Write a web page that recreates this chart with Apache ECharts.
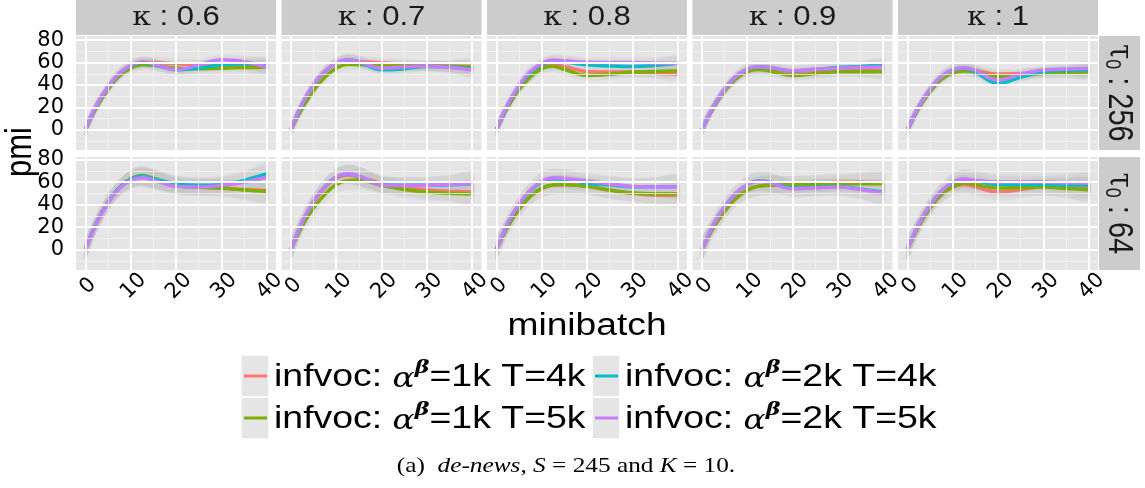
<!DOCTYPE html>
<html>
<head>
<meta charset="utf-8">
<script src="https://cdn.jsdelivr.net/npm/echarts@6/dist/echarts.min.js"></script>
<style>
  html, body { margin: 0; padding: 0; background: #fff; }
  #chart { width: 1145px; height: 488px; }
</style>
</head>
<body>
<div id="chart"></div>
<script>
// x positions of the smoothed curves
var minibatch = [0, 2.5, 5, 7.5, 10, 12.5, 15, 20, 25, 30, 35, 40];
var kappas = ['0.6', '0.7', '0.8', '0.9', '1'];
var taus = ['256', '64'];
var xTicks = [0, 10, 20, 30, 40];
var yTicks = [0, 20, 40, 60, 80];
var names = ['infvoc: αβ=1k T=4k', 'infvoc: αβ=1k T=5k', 'infvoc: αβ=2k T=4k', 'infvoc: αβ=2k T=5k'];

// pmi per panel, order: 1k/4k, 1k/5k, 2k/4k, 2k/5k
var t256_k06 = [
  [0, 22, 38, 50, 57, 60, 60, 59, 58, 57, 57, 57],
  [0, 20, 36, 48, 55, 58, 57.5, 55, 54.5, 55, 55.5, 56],
  [0, 22, 38, 50, 57, 60, 58.5, 53.5, 55, 58, 59, 59],
  [0, 22, 38, 50, 57.5, 60.5, 59, 53.5, 58, 62.5, 61, 56]
];
var t256_k07 = [
  [0, 23, 40, 52, 59, 62, 61, 59.8, 58.5, 57.5, 57, 56.5],
  [0, 19, 35, 47, 55, 58.3, 58.3, 57, 57, 57, 56.5, 56],
  [0, 23, 40, 52, 59.5, 62.5, 60.5, 53.5, 54.5, 56.5, 56, 54],
  [0, 23, 40, 52, 59.5, 62.8, 61, 55, 56, 57, 55.5, 53.3]
];
var t256_k08 = [
  [0, 21, 37, 48, 55, 58, 56.5, 52, 51.5, 51.5, 50.5, 49.8],
  [0, 20, 36, 47, 54.5, 56.8, 54, 48.5, 49.5, 51.5, 52, 52.4],
  [0, 22, 39, 51, 58, 61, 60.5, 58, 57, 56.5, 57.5, 59.3],
  [0, 22.5, 39.5, 52, 59, 62.2, 61.5, 60.2, 60, 60, 59.5, 59.3]
];
var t256_k09 = [
  [0, 20, 35, 46, 52.5, 54.5, 53.5, 50, 51, 53, 53, 53],
  [0, 19.5, 34.5, 45.5, 52, 53.8, 52.5, 48.5, 50, 51.8, 51.8, 51.8],
  [0, 20.5, 36, 47.5, 54, 56.2, 55.5, 52.5, 54, 55.5, 56.5, 57.8],
  [0, 20.5, 36, 47.5, 54, 56.3, 55.5, 52.7, 54, 55, 55.7, 56.3]
];
var t256_k1 = [
  [0, 20, 35.5, 46.5, 52.5, 54.5, 53, 49.8, 50.3, 51, 51.5, 52],
  [0, 19, 34, 45, 50.5, 52.4, 51.5, 47.4, 48.5, 50.4, 51.2, 51.8],
  [0, 20.5, 36, 47.5, 53.5, 55, 51.5, 41.5, 47, 52, 53, 53.3],
  [0, 20.5, 36, 47.5, 53.5, 55.4, 53, 44.4, 49.5, 53.3, 54.3, 54.8]
];
var t64_k06 = [
  [0, 24, 42, 55, 63, 65.5, 63, 57.5, 56, 55, 53.5, 52.7],
  [0, 24, 42, 55, 63, 66, 63.5, 57, 55.5, 54.8, 53, 51.8],
  [0, 24, 42, 55, 62.5, 65.2, 63, 58.7, 57.2, 57.8, 61.6, 67.5],
  [0, 23.5, 41.5, 54.5, 61.5, 64, 62, 56.3, 55.8, 57.2, 60, 64.6]
];
var t64_k07 = [
  [0, 24, 42, 55, 63.5, 66.5, 65, 59, 55.5, 53, 52, 51.2],
  [0, 21, 37, 49, 58, 61.5, 62, 57.2, 53.5, 51.2, 50.3, 49.8],
  [0, 24.5, 43, 56, 64.5, 67.3, 65.5, 58, 57.2, 57.2, 57.8, 58.5],
  [0, 24.5, 43, 56, 64.5, 67.5, 65.5, 57.8, 57, 57.2, 58, 58.7]
];
var t64_k08 = [
  [0, 20.5, 36, 47.5, 54.5, 57.5, 58, 56.3, 53, 50, 48.5, 48.5],
  [0, 20.5, 36, 47.5, 54.5, 57.5, 57.8, 56.3, 53, 50.4, 49.8, 49.8],
  [0, 23, 40, 52.5, 60, 63, 62.5, 59, 57.5, 56, 56, 56],
  [0, 23.5, 40.5, 53, 61, 64, 63.5, 61, 58.5, 56.3, 55.8, 55.7]
];
var t64_k09 = [
  [0, 19.5, 34, 45.5, 53, 56.5, 57.5, 58, 59, 60, 60, 59.5],
  [0, 19.5, 34, 45.5, 53, 56.5, 57.2, 57.8, 58.2, 58.7, 58.7, 58.7],
  [0, 22, 38, 50, 57.5, 61, 60, 55, 55.5, 56, 54, 51],
  [0, 22, 38, 50, 57.5, 60.7, 59.5, 54.2, 55, 55.7, 53.5, 50.4]
];
var t64_k1 = [
  [0, 21, 37, 49, 55.5, 58, 56, 51.2, 53.5, 55.7, 55, 54.2],
  [0, 21, 37, 49, 56, 59.5, 58, 54.8, 55.2, 55.7, 54.5, 53.3],
  [0, 22.5, 39.5, 52, 59.5, 62.5, 61, 58, 58, 58, 57.6, 57.2],
  [0, 22.5, 39.5, 52, 60, 63, 61.5, 60.1, 60.1, 60.1, 59.6, 59.2]
];
// half width of the confidence ribbons
var seT256 = [6, 5.5, 5, 5, 5, 5, 5, 4.5, 4.5, 4.5, 5, 6];
var seT64 = [9, 8, 7.5, 7.5, 8, 8.5, 8.5, 7.5, 7.5, 7.5, 8.5, 10];

var panels = [
  [t256_k06, t256_k07, t256_k08, t256_k09, t256_k1],
  [t64_k06, t64_k07, t64_k08, t64_k09, t64_k1]
];
var ses = [seT256, seT64];
var colors = ['#F8766D', '#7CAE00', '#00BFC4', '#C77CFF'];

var colLeft = [76, 281.5, 487, 692.5, 898];
var panelW = 200;
var rowTop = [36, 157];
var rowH = [114, 113];
var yRange = [[-17.8, 83.6], [-18, 82.4]];

var minorStyle = { color: '#F2F2F2', width: 0.8, type: 'solid' };
var majorStyle = { color: '#FFFFFF', width: 1.8, type: 'solid' };
var gridLines = [];
[5, 15, 25, 35].forEach(function (v) { gridLines.push({ xAxis: v, lineStyle: minorStyle }); });
[-10, 10, 30, 50, 70].forEach(function (v) { gridLines.push({ yAxis: v, lineStyle: minorStyle }); });
xTicks.forEach(function (v) { gridLines.push({ xAxis: v, lineStyle: majorStyle }); });
yTicks.forEach(function (v) { gridLines.push({ yAxis: v, lineStyle: majorStyle }); });

// confidence ribbon: one polygon built from all rows (x, lower, upper)
function renderRibbon(params, api) {
  if (params.dataIndexInside !== 0) return null;
  var n = params.dataInsideLength;
  var up = [], lo = [];
  for (var j = 0; j < n; j++) {
    up.push(api.coord([api.value(0, j), api.value(2, j)]));
    lo.unshift(api.coord([api.value(0, j), api.value(1, j)]));
  }
  return {
    type: 'polygon',
    shape: { points: up.concat(lo), smooth: 0.3 },
    style: { fill: 'rgba(153,153,153,0.12)' }
  };
}

var grids = [], xAxes = [], yAxes = [], series = [], graphics = [];

for (var r = 0; r < 2; r++) {
  for (var c = 0; c < 5; c++) {
    var i = r * 5 + c;
    grids.push({
      left: colLeft[c], top: rowTop[r], width: panelW, height: rowH[r],
      show: true, backgroundColor: '#E5E5E5', borderWidth: 0,
      outerBoundsMode: 'none'
    });
    xAxes.push({
      type: 'value', gridIndex: i, min: -2.05, max: 42.05,
      axisLine: { show: false }, splitLine: { show: false },
      axisTick: { show: r === 1, length: 6, customValues: xTicks, lineStyle: { color: '#7F7F7F', width: 1.5 } },
      axisLabel: {
        show: r === 1, customValues: xTicks, rotate: 45, margin: 19,
        align: 'center', verticalAlign: 'middle', padding: [8, 0, 0, 8],
        fontFamily: 'DejaVu Sans', fontSize: 21, color: '#000'
      }
    });
    yAxes.push({
      type: 'value', gridIndex: i, min: yRange[r][0], max: yRange[r][1],
      axisLine: { show: false }, splitLine: { show: false },
      axisTick: { show: c === 0, length: 6, customValues: yTicks, lineStyle: { color: '#7F7F7F', width: 1.5 } },
      axisLabel: {
        show: c === 0, customValues: yTicks, margin: 12,
        fontFamily: 'DejaVu Sans', fontSize: 21, color: '#000'
      }
    });
    series.push({
      type: 'line', xAxisIndex: i, yAxisIndex: i, data: [], z: 0, silent: true,
      markLine: { silent: true, symbol: ['none', 'none'], label: { show: false }, lineStyle: { type: 'solid' }, data: gridLines }
    });
    var se = ses[r];
    panels[r][c].forEach(function (vals, s) {
      series.push({
        type: 'custom', xAxisIndex: i, yAxisIndex: i, silent: true, z: 2, clip: true,
        data: minibatch.map(function (x, k) { return [x, vals[k] - se[k], vals[k] + se[k]]; }),
        encode: { x: 0, y: [1, 2] },
        renderItem: renderRibbon
      });
    });
    panels[r][c].forEach(function (vals, s) {
      series.push({
        type: 'line', name: names[s], xAxisIndex: i, yAxisIndex: i,
        data: minibatch.map(function (x, k) { return [x, vals[k]]; }),
        smooth: 0.4, symbol: 'none', lineStyle: { color: colors[s], width: 3.5 }, z: 3
      });
    });
  }
}

// facet strips
kappas.forEach(function (k, c) {
  graphics.push({ type: 'rect', shape: { x: colLeft[c], y: 0, width: panelW, height: 35 }, style: { fill: '#CCCCCC' }, z: 0 });
  graphics.push({
    type: 'text', x: colLeft[c] + panelW / 2, y: 18, scaleX: 1.15,
    style: {
      text: '{k|κ}{n| : ' + k + '}', align: 'center', verticalAlign: 'middle',
      rich: {
        k: { fontFamily: 'DejaVu Serif', fontSize: 26, fill: '#1A1A1A' },
        n: { fontFamily: 'Liberation Sans', fontSize: 27, fill: '#1A1A1A' }
      }
    }
  });
});
taus.forEach(function (t, r) {
  graphics.push({ type: 'rect', shape: { x: 1099, y: rowTop[r], width: 41, height: rowH[r] }, style: { fill: '#CCCCCC' }, z: 0 });
  graphics.push({
    type: 'text', x: 1119, y: rowTop[r] + rowH[r] / 2, rotation: -Math.PI / 2, scaleY: 1.22,
    style: {
      text: '{k|τ}{s|0}{n| : ' + t + '}', align: 'center', verticalAlign: 'middle',
      rich: {
        k: { fontFamily: 'DejaVu Serif', fontSize: 27, fill: '#1A1A1A' },
        s: { fontFamily: 'Liberation Sans', fontSize: 18, fill: '#1A1A1A', verticalAlign: 'bottom', padding: [12, 0, 0, 0] },
        n: { fontFamily: 'Liberation Sans', fontSize: 29, fill: '#1A1A1A' }
      }
    }
  });
});

// axis titles
graphics.push({
  type: 'text', x: 21, y: 152, rotation: Math.PI / 2, scaleY: 1.22,
  style: { text: 'pmi', fontFamily: 'Liberation Sans', fontSize: 31, fill: '#000', align: 'center', verticalAlign: 'middle' }
});
graphics.push({
  type: 'text', x: 587, y: 326, scaleX: 1.2,
  style: { text: 'minibatch', fontFamily: 'Liberation Sans', fontSize: 31, fill: '#000', align: 'center', verticalAlign: 'middle' }
});

// legend
var legendPos = [[241, 355], [241, 397], [592, 355], [592, 397]];
var legendLabels = [['1k', '4k'], ['1k', '5k'], ['2k', '4k'], ['2k', '5k']];
[0, 1, 2, 3].forEach(function (s) {
  var p = legendPos[s];
  graphics.push({ type: 'rect', shape: { x: p[0], y: p[1], width: 28, height: 42 }, style: { fill: '#E5E5E5', stroke: '#FFFFFF', lineWidth: 1.5 } });
  graphics.push({ type: 'line', shape: { x1: p[0] + 3, y1: p[1] + 21, x2: p[0] + 26, y2: p[1] + 21 }, style: { stroke: colors[s], lineWidth: 3 } });
  graphics.push({
    type: 'text', x: p[0] + 33, y: p[1] + 22, scaleX: 1.17,
    style: {
      text: '{a|infvoc: }{g|α}{b|β}{a|=' + legendLabels[s][0] + ' T=' + legendLabels[s][1] + '}',
      align: 'left', verticalAlign: 'middle',
      rich: {
        a: { fontFamily: 'Liberation Sans', fontSize: 32, fill: '#000', lineHeight: 36 },
        g: { fontFamily: 'DejaVu Serif', fontStyle: 'italic', fontSize: 28, fill: '#000', lineHeight: 36, padding: [6, 0, 0, 0] },
        b: { fontFamily: 'DejaVu Serif', fontStyle: 'italic', fontWeight: 'bold', fontSize: 19, fill: '#000', verticalAlign: 'top', lineHeight: 36, padding: [0, 0, 8, 0] }
      }
    }
  });
});

// caption
graphics.push({
  type: 'text', x: 566, y: 466, scaleX: 1.15,
  style: {
    text: '{r|(a)  }{i|de-news}{r|, }{i|S}{r| = 245 and }{i|K}{r| = 10.}',
    align: 'center', verticalAlign: 'middle',
    rich: {
      r: { fontFamily: 'Liberation Serif', fontSize: 22, fill: '#000' },
      i: { fontFamily: 'Liberation Serif', fontStyle: 'italic', fontSize: 22, fill: '#000' }
    }
  }
});

var chart = echarts.init(document.getElementById('chart'), null, { renderer: 'canvas' });
chart.setOption({
  animation: false,
  backgroundColor: '#FFFFFF',
  grid: grids,
  xAxis: xAxes,
  yAxis: yAxes,
  series: series,
  graphic: graphics
});
</script>
</body>
</html>
